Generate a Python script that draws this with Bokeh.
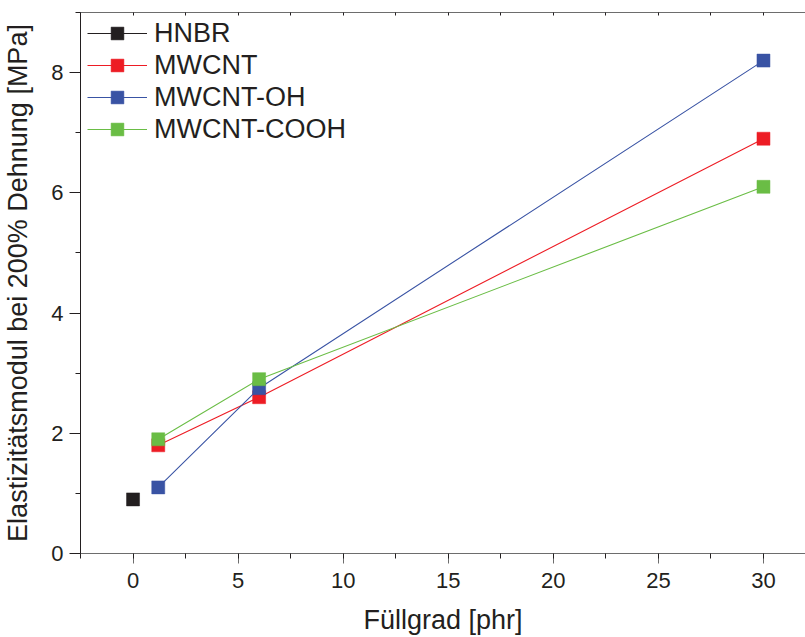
from bokeh.plotting import figure
from bokeh.models import (Legend, LegendItem, LinearAxis, SingleIntervalTicker,
                          Range1d, ColumnDataSource, CustomJSTickFormatter)
from bokeh.embed import file_html
from bokeh.resources import INLINE

# ---- data ----
series_names = ["HNBR", "MWCNT", "MWCNT-OH", "MWCNT-COOH"]
hnbr_x = [0.0]
hnbr_y = [0.9]
mwcnt_x = [1.2, 6.0, 30.0]
mwcnt_y = [1.8, 2.6, 6.9]
oh_x = [1.2, 6.0, 30.0]
oh_y = [1.1, 2.75, 8.2]
cooh_x = [1.2, 6.0, 30.0]
cooh_y = [1.9, 2.9, 6.1]
colors = ["#231f20", "#ed1c24", "#3953a4", "#6abd45"]

x_label = "Füllgrad [phr]"
y_label = "Elastizitätsmodul bei 200% Dehnung [MPa]"

FONT = "Liberation Sans"
TXT = "#231f20"

p = figure(width=805, height=637, output_backend="svg", toolbar_location=None,
           x_range=Range1d(-2.5, 32.0), y_range=Range1d(0, 9),
           min_border_left=80, min_border_right=0, min_border_top=12,
           min_border_bottom=83)
p.outline_line_color = None
p.xgrid.visible = False
p.ygrid.visible = False
p.background_fill_color = "white"
p.border_fill_color = "white"

# bottom axis
xa = p.xaxis[0]
xa.ticker = SingleIntervalTicker(interval=5, num_minor_ticks=2)
xa.axis_line_color = "#6d6d6d"
xa.major_tick_line_color = "#6d6d6d"
xa.minor_tick_line_color = TXT
xa.major_tick_out = 10
xa.major_tick_in = 0
xa.minor_tick_out = 5
xa.minor_tick_in = 0
xa.major_label_standoff = 9
xa.major_label_text_font = FONT
xa.major_label_text_font_size = "22px"
xa.major_label_text_color = TXT
xa.axis_label = x_label
xa.axis_label_text_font = FONT
xa.axis_label_text_font_size = "27px"
xa.axis_label_text_font_style = "normal"
xa.axis_label_text_color = TXT
xa.axis_label_standoff = 14

# left axis
ya = p.yaxis[0]
ya.ticker = SingleIntervalTicker(interval=2, num_minor_ticks=2)
ya.axis_line_color = TXT
ya.major_tick_line_color = TXT
ya.minor_tick_line_color = TXT
ya.major_tick_out = 11
ya.major_tick_in = 0
ya.minor_tick_out = 5
ya.minor_tick_in = 0
ya.major_label_standoff = 6
ya.major_label_text_font = FONT
ya.major_label_text_font_size = "22px"
ya.major_label_text_color = TXT
ya.axis_label = y_label
ya.axis_label_text_font = FONT
ya.axis_label_text_font_size = "27px"
ya.axis_label_text_font_style = "normal"
ya.axis_label_text_color = TXT
ya.axis_label_standoff = 15

# top axis: ticks only
top = LinearAxis(ticker=SingleIntervalTicker(interval=2.5, num_minor_ticks=1),
                 formatter=CustomJSTickFormatter(code="return ''"),
                 axis_line_color="#6d6d6d", major_tick_line_color=TXT,
                 minor_tick_line_color=None,
                 major_tick_in=3, major_tick_out=0,
                 major_label_text_font_size="1px", major_label_standoff=0)
p.add_layout(top, "above")

xs = [hnbr_x, mwcnt_x, oh_x, cooh_x]
ys = [hnbr_y, mwcnt_y, oh_y, cooh_y]
items = []
for name, x, y, c in zip(series_names, xs, ys, colors):
    src = ColumnDataSource(dict(x=x, y=y))
    ln = p.line("x", "y", source=src, line_color=c, line_width=1.1)
    sc = p.scatter("x", "y", source=src, marker="square", size=13,
                   fill_color=c, line_color=c, line_width=0.5)
    items.append(LegendItem(label=name, renderers=[ln, sc]))

legend = Legend(items=items, location=(7, 408))
legend.margin = 0
legend.padding = 8
legend.border_line_color = None
legend.background_fill_alpha = 0
legend.glyph_width = 60
legend.glyph_height = 32
legend.label_height = 32
legend.spacing = 0
legend.label_standoff = 7
legend.label_text_font = FONT
legend.label_text_font_size = "27px"
legend.label_text_color = TXT
p.add_layout(legend, "center")

open("out.html", "w").write(file_html(p, INLINE))
